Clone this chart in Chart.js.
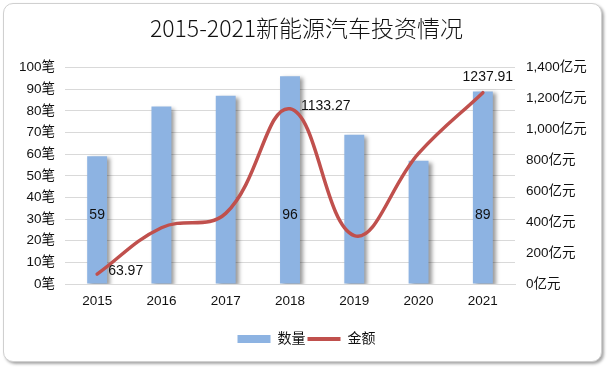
<!DOCTYPE html>
<html lang="zh">
<head>
<meta charset="UTF-8">
<title>2015-2021新能源汽车投资情况</title>
<script src="https://cdn.jsdelivr.net/npm/chart.js@4.4.1/dist/chart.umd.min.js"></script>
<style>
  html, body { margin: 0; padding: 0; background: #fff; }
  #frame {
    position: absolute; left: 3px; top: 3px; width: 597px; height: 357px;
    border: 1px solid #d0d0d0; border-radius: 10px;
    box-shadow: 2px 2px 3px rgba(0,0,0,0.35);
    background: #fff;
  }
  #chart { position: absolute; left: 0; top: 0; }
</style>
</head>
<body>
<div id="frame"></div>
<canvas id="chart" width="613" height="373"></canvas>
<script>
// 数据
const years = ['2015', '2016', '2017', '2018', '2019', '2020', '2021'];
const counts = [59, 82, 87, 96, 69, 57, 89];               // 数量（笔）
const amounts = [63.97, 364, 457, 1133.27, 313, 845, 1237.91]; // 金额（亿元）
const leftTicks = ['0笔', '10笔', '20笔', '30笔', '40笔', '50笔', '60笔', '70笔', '80笔', '90笔', '100笔'];
const rightTicks = ['0亿元', '200亿元', '400亿元', '600亿元', '800亿元', '1,000亿元', '1,200亿元', '1,400亿元'];
const countLabelIdx = [0, 3, 6];
const amountLabelIdx = [0, 3, 6];

const FONT = '"Liberation Sans", "Noto Sans CJK SC", sans-serif';
const BLUE = '#8db3e2';
const RED = '#c0504d';

// 柱子阴影
const barShadow = {
  id: 'barShadow',
  beforeDatasetDraw(chart, args) {
    if (args.index !== 0) return;
    const ctx = chart.ctx;
    ctx.save();
    ctx.shadowColor = 'rgba(0,0,0,0.4)';
    ctx.shadowOffsetX = 3;
    ctx.shadowOffsetY = 2;
    ctx.shadowBlur = 4;
  },
  afterDatasetDraw(chart, args) {
    if (args.index !== 0) return;
    chart.ctx.restore();
  }
};

// 数据标签
const valueLabels = {
  id: 'valueLabels',
  afterDatasetsDraw(chart) {
    const ctx = chart.ctx;
    const y = chart.scales.y;
    ctx.save();
    ctx.font = '14px ' + FONT;
    ctx.fillStyle = '#111';
    ctx.textBaseline = 'middle';

    const bars = chart.getDatasetMeta(0).data;
    ctx.textAlign = 'center';
    countLabelIdx.forEach(i => {
      ctx.fillText(String(counts[i]), bars[i].x, y.getPixelForValue(32));
    });

    const pts = chart.getDatasetMeta(1).data;
    amountLabelIdx.forEach((i, k) => {
      const p = pts[i];
      const txt = amounts[i].toFixed(2);
      if (k === amountLabelIdx.length - 1) {
        ctx.textAlign = 'center';
        ctx.fillText(txt, p.x + 5, p.y - 16);
      } else {
        ctx.textAlign = 'left';
        ctx.fillText(txt, p.x + 11, p.y - 3);
      }
    });
    ctx.restore();
  }
};

new Chart(document.getElementById('chart'), {
  data: {
    labels: years,
    datasets: [
      {
        type: 'bar',
        label: '数量',
        data: counts,
        yAxisID: 'y',
        backgroundColor: BLUE,
        barPercentage: 0.62,
        categoryPercentage: 0.5,
        order: 1
      },
      {
        type: 'line',
        label: '金额',
        data: amounts,
        yAxisID: 'y1',
        borderColor: RED,
        backgroundColor: RED,
        borderWidth: 3.5,
        pointRadius: 0,
        tension: 0.4,
        borderCapStyle: 'round',
        order: 0
      }
    ]
  },
  plugins: [barShadow, valueLabels],
  options: {
    responsive: false,
    animation: false,
    layout: { padding: { top: 4, left: 0, right: 0, bottom: 17 } },
    plugins: {
      title: {
        display: true,
        text: '2015-2021新能源汽车投资情况',
        color: '#111',
        font: { family: '"Noto Sans CJK SC", sans-serif', size: 23, weight: 300 },
        padding: { top: 10, bottom: 26 }
      },
      legend: {
        position: 'bottom',
        labels: {
          usePointStyle: true,
          pointStyleWidth: 33,
          boxWidth: 33,
          boxHeight: 8,
          padding: 2,
          color: '#111',
          font: { family: FONT, size: 14 },
          sort: (a, b) => a.datasetIndex - b.datasetIndex,
          generateLabels(chart) {
            return [
              { text: '数量', datasetIndex: 0, pointStyle: 'rect', fillStyle: BLUE, strokeStyle: BLUE, lineWidth: 0, fontColor: '#111' },
              { text: '金额', datasetIndex: 1, pointStyle: 'line', fillStyle: RED, strokeStyle: RED, lineWidth: 4, fontColor: '#111' }
            ];
          }
        }
      },
      tooltip: { enabled: false }
    },
    scales: {
      x: {
        grid: { display: false, drawTicks: false },
        border: { display: true, color: '#d9d9d9' },
        ticks: { color: '#111', font: { family: FONT, size: 13.5 }, padding: 9 },
        afterFit(scale) { scale.height = 46; }
      },
      y: {
        position: 'left',
        min: 0, max: 100,
        ticks: {
          stepSize: 10,
          color: '#111',
          font: { family: FONT, size: 13.5 },
          padding: 10,
          callback: (v) => leftTicks[Math.round(v / 10)]
        },
        grid: { color: '#d9d9d9', drawTicks: false },
        border: { display: false },
        afterFit(scale) { scale.width = 65; }
      },
      y1: {
        position: 'right',
        min: 0, max: 1400,
        ticks: {
          stepSize: 200,
          color: '#111',
          font: { family: FONT, size: 13.5 },
          padding: 11,
          callback: (v) => rightTicks[Math.round(v / 200)]
        },
        grid: { display: false, drawTicks: false },
        border: { display: false },
        afterFit(scale) { scale.width = 98; }
      }
    }
  }
});
</script>
</body>
</html>
